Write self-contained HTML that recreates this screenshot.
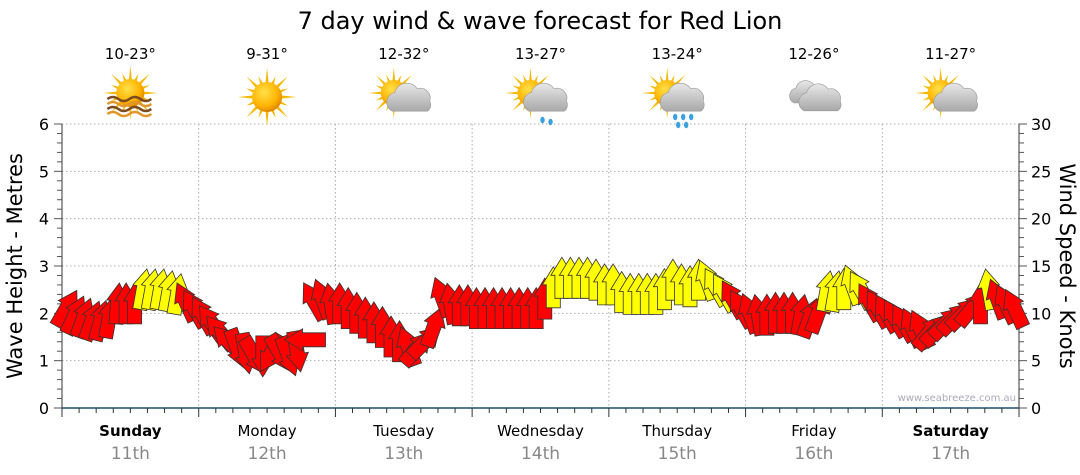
<!DOCTYPE html>
<html><head><meta charset="utf-8"><style>
body{margin:0;background:#fff;}
svg{display:block;font-family:"DejaVu Sans","Liberation Sans",sans-serif;}
</style></head><body>
<svg id="c" width="1080" height="475" viewBox="0 0 1080 475" xmlns="http://www.w3.org/2000/svg">
<defs>
<radialGradient id="sun" cx="40%" cy="35%" r="65%"><stop offset="0" stop-color="#ffe04a"/><stop offset="0.7" stop-color="#ffb400"/><stop offset="1" stop-color="#e08a00"/></radialGradient>
<linearGradient id="cloud" x1="0" y1="0" x2="0" y2="1"><stop offset="0" stop-color="#e8e8e8"/><stop offset="1" stop-color="#a8a8a8"/></linearGradient>
</defs>
<text x="540" y="29" text-anchor="middle" font-size="24" fill="#000">7 day wind &amp; wave forecast for Red Lion</text>
<g id="grid"></g>
<g id="icons"></g>
<g id="axes"></g>
<g id="arrows"></g>
<text x="1016" y="401" text-anchor="end" font-size="10" fill="#aab">www.seabreeze.com.au</text>
<text transform="translate(22,266) rotate(-90)" text-anchor="middle" font-size="21" fill="#000">Wave Height - Metres</text>
<text transform="translate(1060,266) rotate(90)" text-anchor="middle" font-size="21" fill="#000">Wind Speed - Knots</text>
</svg>
<script>
const days=["Sunday","Monday","Tuesday","Wednesday","Thursday","Friday","Saturday"];
const dates=["11th","12th","13th","14th","15th","16th","17th"];
const boldDays=[true,false,false,false,false,false,true];
const temps=["10-23°","9-31°","12-32°","13-27°","13-24°","12-26°","11-27°"];
const icons=["sunhaze","sun","partly","shower","rain","cloud","partly"];
const waveTicks=[0,1,2,3,4,5,6];
const windTicks=[0,5,10,15,20,25,30];
const windSpeed=[
10.5,9.8,9.5,9.2,9.2,9.5,11,11,11,12.5,12.5,12.5,12.3,12,11.2,10.5,
9.8,9,8,7,6.3,5.8,5.5,5.5,5.8,5.8,5.5,6,7.2,11.3,11.5,11,
11,10.5,10,9.5,9,8.5,7.5,7,6.5,6.3,7,8.5,11.7,11,10.8,10.8,
10.5,10.5,10.5,10.5,10.5,10.5,10.5,10.5,11.5,12.7,13.7,13.7,13.7,13.7,13.5,13,
13,12.2,12,12,12,12,12.5,13.5,13,12.8,13.5,13.5,12.8,12.2,11.5,10.5,
10,9.8,9.8,10,10,10,9.8,9.5,10,12.3,12.3,12.5,13,12.5,11.2,10.5,
10,9.5,9,8.5,8.3,8,8.3,9,9.5,10,10.5,11,12.5,11.5,11,10.5];
const windDir=[
30,25,20,20,15,10,5,0,0,10,10,10,10,10,-25,-30,
-30,-35,-40,-45,160,170,150,180,-150,150,160,170,-90,-30,-20,-10,
0,0,0,0,0,0,0,0,-20,40,45,20,-20,-10,0,0,
0,0,0,0,0,0,0,0,0,0,0,0,0,0,0,0,
0,0,0,0,0,0,0,0,0,0,0,-20,-30,-30,-30,-30,
-20,-10,0,0,0,0,10,20,20,10,10,0,-20,-30,-30,-30,
-30,-30,-30,-25,-25,40,45,45,45,45,40,0,-10,-20,-25,-25];
const X0=62,X1=1019,Y0=408,Y1=124;
const NS='http://www.w3.org/2000/svg';
const dayW=(X1-X0)/7;
function xDay(d){return X0+d*dayW;}
function xPt(i){return X0+(i+0.5)*(X1-X0)/windSpeed.length;}
function yWave(v){return Y0-(v/6)*(Y0-Y1);}
function yWind(v){return Y0-(v/30)*(Y0-Y1);}
function mk(tag,attrs,parent){const e=document.createElementNS(NS,tag);for(const k in attrs)e.setAttribute(k,attrs[k]);parent.appendChild(e);return e;}
const grid=document.getElementById('grid'),axes=document.getElementById('axes'),arrows=document.getElementById('arrows'),ic=document.getElementById('icons');
waveTicks.forEach(v=>{if(v>0){const l=mk('line',{x1:X0,x2:X1,y1:yWave(v),y2:yWave(v),stroke:'#aaa','stroke-dasharray':'1.5,2.5'},grid);

}});
for(let d=1;d<7;d++){const l=mk('line',{x1:xDay(d),x2:xDay(d),y1:Y1,y2:Y0,stroke:'#aaa','stroke-dasharray':'1.5,2.5'},grid);

}
mk('line',{x1:X0,x2:X0,y1:Y1,y2:Y0,stroke:'#333'},axes);
mk('line',{x1:X1,x2:X1,y1:Y1,y2:Y0,stroke:'#333'},axes);
for(let k=0;k<=30;k++){const y=Y0-k*(Y0-Y1)/30;
mk('line',{x1:X0-(k%5==0?8:5),x2:X0,y1:y,y2:y,stroke:'#555'},axes);
mk('line',{x1:X1,x2:X1+(k%5==0?8:5),y1:y,y2:y,stroke:'#555'},axes);}
waveTicks.forEach(v=>{const t=mk('text',{x:49,y:yWave(v)+6,'text-anchor':'end','font-size':16,fill:'#000'},axes);t.textContent=v;

});
windTicks.forEach(v=>{const t=mk('text',{x:1031,y:yWind(v)+6,'font-size':16,fill:'#000'},axes);t.textContent=v;

});
mk('line',{x1:X0,x2:X1,y1:Y0,y2:Y0,stroke:'#1b4f72','stroke-width':1.5},axes);
for(let k=0;k<=56;k++){const x=X0+k*dayW/8;mk('line',{x1:x,x2:x,y1:Y0,y2:Y0+(k%8==0?9:5),stroke:'#333'},axes);}
days.forEach((d,i)=>{const cx=xDay(i)+dayW/2;
const t=mk('text',{x:cx,y:436,'text-anchor':'middle','font-size':15,fill:'#000','font-weight':boldDays[i]?'bold':'normal'},axes);t.textContent=d;


const t2=mk('text',{x:cx,y:459,'text-anchor':'middle','font-size':17,fill:'#888'},axes);t2.textContent=dates[i];


const t3=mk('text',{x:cx,y:59,'text-anchor':'middle','font-size':15,fill:'#000'},ic);t3.textContent=temps[i];


drawIcon(icons[i],cx,97);});
function drawSun(g,cx,cy,r){let p='';for(let k=0;k<16;k++){const a=k*Math.PI/8,L=(k%2?r*1.5:r*1.95);p+=`M${cx+Math.cos(a-0.12)*r*0.9},${cy+Math.sin(a-0.12)*r*0.9}L${cx+Math.cos(a)*L},${cy+Math.sin(a)*L}L${cx+Math.cos(a+0.12)*r*0.9},${cy+Math.sin(a+0.12)*r*0.9}Z`;}
mk('path',{d:p,fill:'#f5b800'},g);mk('circle',{cx,cy,r,fill:'url(#sun)'},g);}
function drawCloud(g,cx,cy,s){mk('path',{d:`M${cx-14*s},${cy+9*s}a${8*s} ${8*s} 0 0 1 ${2*s},${-15*s}a${10*s} ${10*s} 0 0 1 ${18*s},${-3*s}a${8*s} ${8*s} 0 0 1 ${10*s},${10*s}a${6*s} ${6*s} 0 0 1 ${-2*s},${8*s}z`,fill:'url(#cloud)',stroke:'#999','stroke-width':0.6},g);}
function drawIcon(type,cx,cy){const g=mk('g',{},ic);


if(type==='sunhaze'){drawSun(g,cx,cy-4,14);for(let k=0;k<4;k++){mk('path',{d:`M${cx-23},${cy+2+k*5}q5.5,-4 11,0t11,0t11,0t11,0`,fill:'none',stroke:k%2?'#e0962a':'#7a4a20','stroke-width':2.4},g);}}
else if(type==='sun'){drawSun(g,cx,cy,15);}
else if(type==='cloud'){drawCloud(g,cx-6,cy-3,1.0);drawCloud(g,cx+7,cy+3,1.2);}
else{drawSun(g,cx-10,cy-4,13);drawCloud(g,cx+6,cy+3,1.25);
if(type==='shower'){mk('ellipse',{cx:cx+2,cy:cy+23,rx:2.2,ry:3.2,fill:'#3aa0e0'},g);mk('ellipse',{cx:cx+10,cy:cy+25,rx:2.2,ry:3.2,fill:'#3aa0e0'},g);}
if(type==='rain'){[[-2,20],[6,20],[14,20],[1,28],[9,28]].forEach(p=>mk('ellipse',{cx:cx+p[0],cy:cy+p[1],rx:2.2,ry:3.2,fill:'#3aa0e0'},g));}}}
windSpeed.forEach((v,i)=>{const x=xPt(i),y=yWind(v);
const a=mk('path',{d:'M0,-21L11,-3L7,-3L7,20L-7,20L-7,-3L-11,-3Z',transform:`translate(${x.toFixed(1)},${y.toFixed(1)}) rotate(${windDir[i]})`,fill:v>=12?'#ffff00':'#ff0000',stroke:'#333','stroke-width':0.8,'stroke-linejoin':'miter'},arrows);

});
</script>
</body></html>
